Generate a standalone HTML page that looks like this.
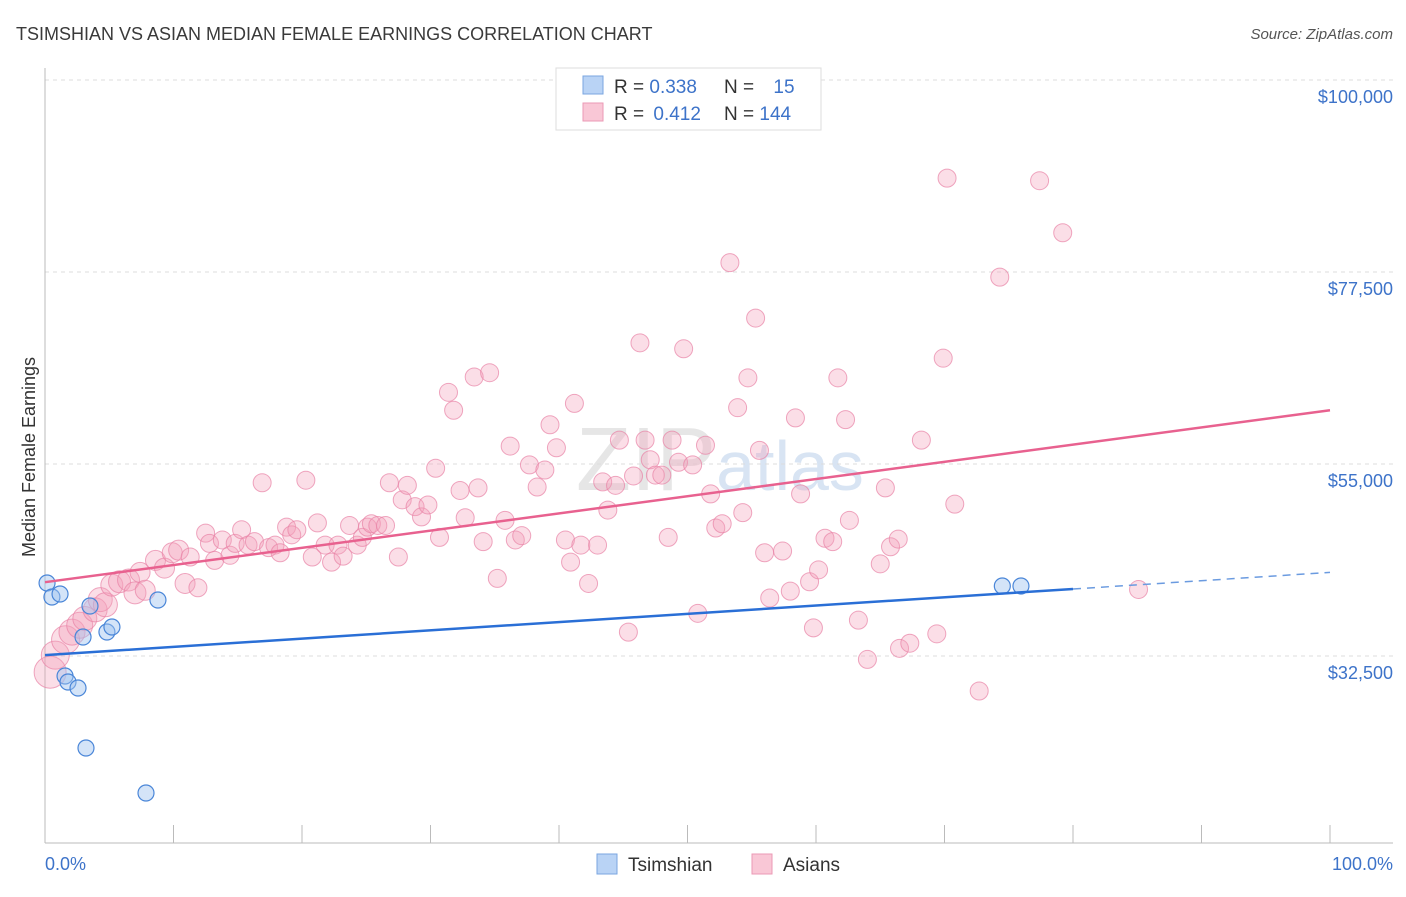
<!DOCTYPE html>
<html><head><meta charset="utf-8">
<style>
body{margin:0;background:#fff;font-family:"Liberation Sans",sans-serif;}
svg text{font-family:"Liberation Sans",sans-serif;}
</style></head>
<body>
<svg id="chart" width="1406" height="892" viewBox="0 0 1406 892" xmlns="http://www.w3.org/2000/svg">
<text x="16" y="40" font-size="18" fill="#3a3a3a">TSIMSHIAN VS ASIAN MEDIAN FEMALE EARNINGS CORRELATION CHART</text>
<text x="1393" y="39" font-size="15" fill="#555" text-anchor="end" font-style="italic">Source: ZipAtlas.com</text>
<text x="720" y="490" font-size="90" fill="#e6e6e6" text-anchor="middle" font-family="Liberation Serif">ZIP<tspan fill="#d8e4f3" font-family="Liberation Sans" font-size="70">atlas</tspan></text>
<g id="grid"></g>
<g id="axes"></g>
<g id="pink"></g>
<g id="blue"></g>
<g id="trends"></g>
<text transform="translate(35,457) rotate(-90)" font-size="18" fill="#333" text-anchor="middle">Median Female Earnings</text>
<text x="45" y="870" font-size="18" fill="#3d73c9">0.0%</text>
<text x="1393" y="870" font-size="18" fill="#3d73c9" text-anchor="end">100.0%</text>
<g>
<rect x="556" y="68" width="265" height="62" fill="#fff" stroke="#ddd"/>
<rect x="583" y="76" width="20" height="18" fill="#b9d3f5" stroke="#7aa6e0"/>
<rect x="583" y="103" width="20" height="18" fill="#f9c7d6" stroke="#eb9ab5"/>
<text x="614" y="93" font-size="19" fill="#333">R = <tspan fill="#3d73c9">0.338</tspan></text>
<text x="724" y="93" font-size="19" fill="#333">N = <tspan fill="#3d73c9" dx="14">15</tspan></text>
<text x="614" y="120" font-size="19" fill="#333">R = <tspan fill="#3d73c9" dx="4">0.412</tspan></text>
<text x="724" y="120" font-size="19" fill="#333">N = <tspan fill="#3d73c9">144</tspan></text>
</g>
<g>
<rect x="597" y="854" width="20" height="20" fill="#b9d3f5" stroke="#7aa6e0"/>
<text x="628" y="871" font-size="19" fill="#333">Tsimshian</text>
<rect x="752" y="854" width="20" height="20" fill="#f9c7d6" stroke="#eb9ab5"/>
<text x="783" y="871" font-size="19" fill="#333">Asians</text>
</g>
</svg>
<script>
const yTicks=[100000,77500,55000,32500];
const yTickLabels=["$100,000","$77,500","$55,000","$32,500"];
const xTicks=[0,10,20,30,40,50,60,70,80,90,100];
const blueX=[0.16,0.54,1.17,3.5,2.96,4.82,5.21,8.79,1.56,1.79,2.57,3.19,7.86,74.5,75.95];
const blueY=[41054,39413,39764,38358,34725,35311,35897,39061,30155,29452,28748,21717,16444,40702,40702];
const pinkX=[0.4,0.8,1.6,2.1,2.7,3.1,3.9,4.3,4.7,5.2,5.8,6.5,7.0,7.4,7.8,8.6,9.3,9.9,10.4,10.9,11.3,11.9,12.5,12.8,13.2,13.8,14.4,14.8,15.3,15.8,16.3,16.9,17.4,17.9,18.3,18.8,19.2,19.6,20.3,20.8,21.2,21.8,22.3,22.8,23.2,23.7,24.3,24.7,25.1,25.4,25.9,26.5,26.8,27.5,27.8,28.2,28.8,29.3,29.8,30.4,30.7,31.4,31.8,32.3,32.7,33.4,33.7,34.1,34.6,35.2,35.8,36.2,36.6,37.1,37.7,38.3,38.9,39.3,39.8,40.5,40.9,41.2,41.7,42.3,43.0,43.4,43.8,44.4,44.7,45.4,45.8,46.3,46.7,47.1,47.5,48.0,48.5,48.8,49.3,49.7,50.4,50.8,51.4,51.8,52.2,52.7,53.3,53.9,54.3,54.7,55.3,55.6,56.0,56.4,57.4,58.0,58.4,58.8,59.5,59.8,60.2,60.7,61.3,61.7,62.3,62.6,63.3,64.0,65.0,65.4,65.8,66.4,66.5,67.3,68.2,69.4,69.9,70.2,70.8,72.7,74.3,77.4,79.2,85.1];
const pinkY=[30.6,32.6,34.4,35.3,36.1,36.9,37.9,39.1,38.5,40.8,41.2,41.4,39.9,42.3,40.2,43.7,42.8,44.6,44.9,41.0,44.1,40.5,46.9,45.7,43.7,46.1,44.3,45.7,47.3,45.5,45.9,52.8,45.2,45.5,44.6,47.6,46.7,47.3,53.1,44.1,48.1,45.5,43.5,45.5,44.2,47.8,45.5,46.4,47.6,48.0,47.8,47.8,52.8,44.1,50.8,52.5,50.0,48.8,50.2,54.5,46.4,63.4,61.3,51.9,48.7,65.2,52.2,45.9,65.7,41.6,48.4,57.1,46.1,46.6,54.9,52.3,54.3,59.6,56.9,46.1,43.5,62.1,45.5,41.0,45.5,52.9,49.6,52.5,57.8,35.3,53.6,69.2,57.8,55.5,53.7,53.7,46.4,57.8,55.2,68.5,54.9,37.5,57.2,51.5,47.5,48.0,78.6,61.6,49.3,65.1,72.1,56.6,44.6,39.3,44.8,40.1,60.4,51.5,41.2,35.8,42.6,46.3,45.9,65.1,60.2,48.4,36.7,32.1,43.3,52.2,45.3,46.2,33.4,34.0,57.8,35.1,67.4,88.5,50.3,28.4,76.9,88.2,82.1,40.3].map(v=>v*1000);
const pinkSize=[16,14,14,13,13,12,12,12,12,11,11,11,11,10,10,10,10,10,10,10];
const blueTrend=[[0,32600],[80,40350],[100,42300]];
const pinkTrend=[[0,41150],[100,61300]];

const NS="http://www.w3.org/2000/svg";
const X0=45,X1=1330,YTOP=80,PXPER=192/22500;
const sx=v=>X0+(X1-X0)*v/100;
const sy=v=>YTOP+(100000-v)*PXPER;
function mk(tag,attrs,parent){const e=document.createElementNS(NS,tag);for(const k in attrs)e.setAttribute(k,attrs[k]);parent.appendChild(e);return e;}
const grid=document.getElementById('grid'),axes=document.getElementById('axes');
yTicks.forEach((t,i)=>{
  const gl=mk('line',{x1:X0,x2:1393,y1:sy(t),y2:sy(t),stroke:'#ddd','stroke-dasharray':'4,4'},grid);
  
  
  const tx=mk('text',{x:1393,y:sy(t)+23,'font-size':18,fill:'#3d73c9','text-anchor':'end'},axes);
  tx.textContent=yTickLabels[i];
  
  
});
const ya=mk('line',{x1:X0,x2:X0,y1:68,y2:843,stroke:'#bbb'},axes);


const xa=mk('line',{x1:X0,x2:1393,y1:843,y2:843,stroke:'#bbb'},axes);


xTicks.forEach(t=>{
  const tk=mk('line',{x1:sx(t),x2:sx(t),y1:825,y2:843,stroke:'#bbb'},axes);
  
  
});
const pg=document.getElementById('pink');
pinkX.forEach((x,i)=>{
  const r=pinkSize[i]||9;
  const c=mk('circle',{cx:sx(x),cy:sy(pinkY[i]),r:r,fill:'rgba(244,160,186,0.35)',stroke:'rgba(232,130,165,0.7)','stroke-width':1},pg);
  
  
});
const bg=document.getElementById('blue');
blueX.forEach((x,i)=>{
  const c=mk('circle',{cx:sx(x),cy:sy(blueY[i]),r:8,fill:'rgba(160,195,240,0.45)',stroke:'#4a86d8','stroke-width':1.2},bg);
  
  
});
const tg=document.getElementById('trends');
const b1=mk('line',{x1:sx(blueTrend[0][0]),y1:sy(blueTrend[0][1]),x2:sx(blueTrend[1][0]),y2:sy(blueTrend[1][1]),stroke:'#2a6fd6','stroke-width':2.5},tg);


const b2=mk('line',{x1:sx(blueTrend[1][0]),y1:sy(blueTrend[1][1]),x2:sx(blueTrend[2][0]),y2:sy(blueTrend[2][1]),stroke:'#6b9be0','stroke-width':1.5,'stroke-dasharray':'8,6'},tg);


const p1=mk('line',{x1:sx(pinkTrend[0][0]),y1:sy(pinkTrend[0][1]),x2:sx(pinkTrend[1][0]),y2:sy(pinkTrend[1][1]),stroke:'#e8618f','stroke-width':2.5},tg);


</script>
</body></html>
